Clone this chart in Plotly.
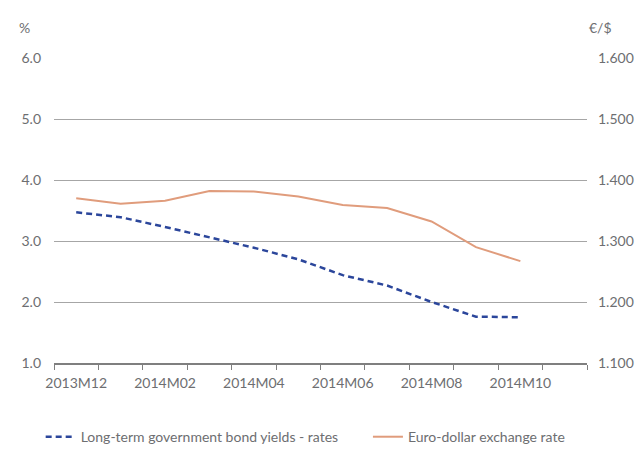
import plotly.graph_objects as go

# months on the x axis (last category left empty, as in the original)
months = ["2013M12", "2014M01", "2014M02", "2014M03", "2014M04", "2014M05",
          "2014M06", "2014M07", "2014M08", "2014M09", "2014M10", "2014M11"]

# long-term government bond yields, %
bond_yields = [3.47, 3.39, 3.23, 3.06, 2.89, 2.70, 2.44, 2.27, 2.00, 1.76, 1.75]

# euro-dollar exchange rate, EUR/USD
eur_usd = [1.370, 1.361, 1.366, 1.382, 1.381, 1.373, 1.359, 1.354, 1.332, 1.290, 1.267]

font_fam = "Lato, Roboto, sans-serif"
grey_txt = "#6d6e71"

fig = go.Figure()
fig.add_trace(go.Scatter(
    x=list(range(len(bond_yields))), y=bond_yields,
    name="Long-term government bond yields - rates",
    mode="lines", line=dict(color="#2b469b", width=2.5, dash="6px,4px"),
    legend="legend",
))
fig.add_trace(go.Scatter(
    x=list(range(len(eur_usd))), y=eur_usd,
    name="Euro-dollar exchange rate", yaxis="y2",
    mode="lines", line=dict(color="#e09c7c", width=2),
    legend="legend2",
))

leg_style = dict(orientation="h", yanchor="middle", xanchor="left", y=-0.243,
                 font=dict(size=14, color=grey_txt), itemwidth=30,
                 bgcolor="rgba(0,0,0,0)")

fig.update_layout(
    width=635, height=449,
    margin=dict(l=54, r=48, t=58, b=86, autoexpand=False),
    paper_bgcolor="white", plot_bgcolor="white",
    font=dict(family=font_fam, size=14, color=grey_txt),
    showlegend=True,
    legend=dict(x=-0.025, **leg_style),
    legend2=dict(x=0.589, **leg_style),
    xaxis=dict(
        range=[-0.5, len(months) - 0.5], automargin=False,
        tickvals=list(range(0, len(months), 2)),
        ticktext=months[::2],
        ticks="", showgrid=False, zeroline=False,
        showline=True, linecolor="#7f7f7f", linewidth=2,
        minor=dict(ticks="outside", tick0=-0.5, dtick=1, ticklen=5,
                   tickcolor="#7f7f7f", showgrid=False),
        ticklabelstandoff=6,
        tickfont=dict(size=14, color=grey_txt),
    ),
    yaxis=dict(
        range=[1, 6], dtick=1, tickformat=".1f", automargin=False,
        showgrid=True, gridcolor="#a6a6a6", gridwidth=1,
        zeroline=False, ticks="", ticklabelstandoff=12,
        tickfont=dict(size=14, color=grey_txt),
    ),
    yaxis2=dict(
        range=[1.1, 1.6], dtick=0.1, tickformat=".3f", automargin=False,
        overlaying="y", side="right", showgrid=False, zeroline=False,
        ticks="", ticklabelstandoff=10,
        tickfont=dict(size=14, color=grey_txt),
    ),
    annotations=[
        dict(text="%", xref="paper", yref="paper", x=-0.056, y=1.10,
             xanchor="center", yanchor="middle", showarrow=False,
             font=dict(size=14, color=grey_txt)),
        dict(text="€/$", xref="paper", yref="paper", x=1.026, y=1.10,
             xanchor="center", yanchor="middle", showarrow=False,
             font=dict(size=14, color=grey_txt)),
    ],
)

# drop the default page margin so the figure sits at the window's top-left corner
fig.write_html("out.html", config={"displayModeBar": False},
               post_script="document.body.style.margin='0';")
